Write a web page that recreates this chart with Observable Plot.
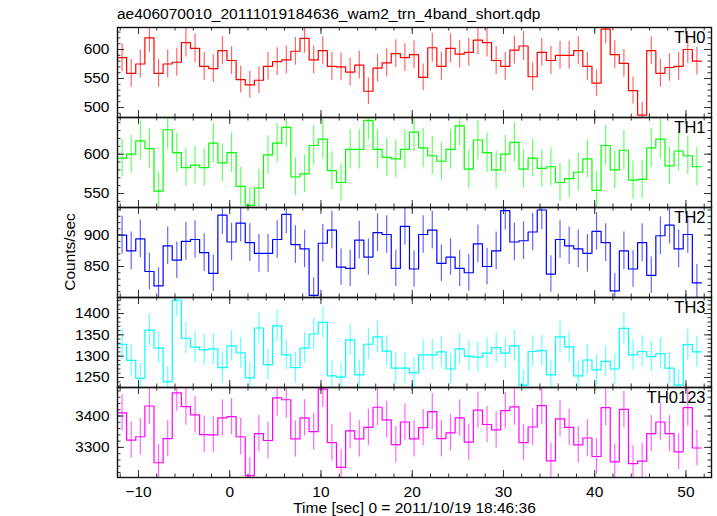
<!DOCTYPE html>
<html><head><meta charset="utf-8">
<script src="https://cdn.jsdelivr.net/npm/d3@7"></script>
<script src="https://cdn.jsdelivr.net/npm/@observablehq/plot@0.6"></script>
<style>
body{margin:0;background:#fff;}
#wrap{position:relative;width:717px;height:516px;overflow:hidden;background:#fff;font-family:"Liberation Sans",Arial,Helvetica,sans-serif;color:#000;}
.title{position:absolute;left:117px;top:4.6px;font-size:15.5px;line-height:18px;white-space:nowrap;}
.ylab{position:absolute;left:70px;top:252px;font-size:15.5px;line-height:18px;white-space:nowrap;transform:translate(-50%,-50%) rotate(-90deg);}
.panel{position:absolute;left:0;}
</style></head><body>
<div id="wrap">
  <div class="title">ae406070010_20111019184636_wam2_trn_4band_short.qdp</div>
  <div class="ylab">Counts/sec</div>
</div>
<script>
// bin centres (s), 1 s bins
const times = [-11.8,-10.8,-9.8,-8.8,-7.8,-6.8,-5.8,-4.8,-3.8,-2.8,
  -1.8,-0.8,0.2,1.2,2.2,3.2,4.2,5.2,6.2,7.2,
  8.2,9.2,10.2,11.2,12.2,13.2,14.2,15.2,16.2,17.2,
  18.2,19.2,20.2,21.2,22.2,23.2,24.2,25.2,26.2,27.2,
  28.2,29.2,30.2,31.2,32.2,33.2,34.2,35.2,36.2,37.2,
  38.2,39.2,40.2,41.2,42.2,43.2,44.2,45.2,46.2,47.2,
  48.2,49.2,50.2,51.2];

const th0 = [586,559,575,620,559,575,578,612,602,571,
  567,598,581,548,539,547,571,579,582,597,
  619,582,598,571,570,561,573,528,568,577,
  593,586,591,552,603,571,602,592,595,616,
  612,581,571,599,606,553,595,581,590,590,
  598,571,542,635,591,576,529,487,598,559,
  569,571,600,580];
const th0Err = [24,24,24,25,24,24,24,25,25,24,
  24,24,24,23,23,23,24,24,24,24,
  25,24,24,24,24,24,24,23,24,24,
  24,24,24,23,25,24,25,24,24,25,
  25,24,24,24,25,24,24,24,24,24,
  24,24,23,25,24,24,23,22,24,24,
  24,24,24,24];

const th1 = [595,600,617,607,553,631,602,583,586,583,
  614,589,602,559,535,557,599,614,634,571,
  575,611,619,579,564,606,606,643,606,596,
  594,606,628,608,598,591,606,636,581,618,
  602,580,600,615,581,595,582,584,564,569,
  577,594,554,611,580,605,567,568,608,619,
  585,604,598,584];
const th1Err = [24,24,25,25,24,25,25,24,24,24,
  25,24,25,24,23,24,24,25,25,24,
  24,25,25,24,24,25,25,25,25,24,
  24,25,25,25,24,24,25,25,24,25,
  25,24,24,25,24,24,24,24,24,24,
  24,24,24,25,24,25,24,24,25,25,
  24,25,24,24];

const th2 = [900,875,894,842,819,883,860,890,893,872,
  839,932,889,919,888,871,871,893,933,885,
  878,804,887,908,849,847,892,865,904,901,
  847,914,846,901,908,855,865,847,840,886,
  850,875,939,889,891,905,940,838,893,883,
  878,871,906,888,811,875,846,888,836,899,
  916,878,901,824];
const th2Err = [30,30,30,29,29,30,29,30,30,30,
  29,31,30,30,30,30,30,30,31,30,
  30,28,30,30,29,29,30,29,30,30,
  29,30,29,30,30,29,29,29,29,30,
  29,30,31,30,30,30,31,29,30,30,
  30,30,30,30,28,30,29,30,29,30,
  30,30,30,29];

const th3 = [1328,1290,1248,1361,1319,1240,1431,1342,1321,1315,
  1317,1273,1324,1308,1249,1366,1280,1371,1303,1273,
  1319,1352,1379,1254,1251,1338,1256,1328,1345,1312,
  1272,1272,1261,1303,1303,1310,1270,1317,1300,1298,
  1307,1320,1307,1324,1232,1311,1313,1256,1345,1322,
  1254,1291,1268,1288,1270,1365,1303,1311,1299,1306,
  1272,1232,1327,1310];
const th3Err = [36,36,35,37,36,35,38,37,36,36,
  36,36,36,36,35,37,36,37,36,36,
  36,37,37,35,35,37,35,36,37,36,
  36,36,36,36,36,36,36,36,36,36,
  36,36,36,36,35,36,36,35,37,36,
  35,36,36,36,36,37,36,36,36,36,
  36,35,36,36];

const th0123 = [3410,3323,3334,3432,3251,3328,3474,3430,3404,3341,
  3340,3394,3398,3334,3210,3344,3322,3458,3452,3327,
  3394,3350,3486,3315,3236,3353,3327,3364,3428,3388,
  3309,3381,3327,3363,3414,3328,3346,3394,3317,3419,
  3373,3356,3417,3429,3315,3365,3433,3257,3391,3364,
  3308,3330,3271,3427,3254,3421,3248,3256,3344,3381,
  3344,3286,3427,3298];
const th0123Err = [58,58,58,59,57,58,59,59,58,58,
  58,58,58,58,57,58,58,59,59,58,
  58,58,59,58,57,58,58,58,59,58,
  58,58,58,58,58,58,58,58,58,58,
  58,58,58,59,58,58,59,57,58,58,
  58,58,57,59,57,58,57,57,58,58,
  58,57,59,57];

const names = ["TH0","TH1","TH2","TH3","TH0123"];
const colors = ["#ff0000","#00ff00","#0000ff","#00ffff","#ff00ff"];
const series = [th0, th1, th2, th3, th0123];
const errors = [th0Err, th1Err, th2Err, th3Err, th0123Err];
const yDomains = [[482.8,637.9],[532.2,646.6],[800.6,944],[1226.6,1437.5],[3204,3491]];
const yTicks = [[500,550,600],[550,600],[850,900],[1250,1300,1350,1400],[3300,3400]];
const yMinorStep = [10,10,10,10,20];
const xTicks = [-10,0,10,20,30,40,50];
const xDomain = [-12.3, 52.8];
const xLabel = "Time [sec] 0 = 2011/10/19 18:46:36";

const W = 717, ML = 117, MR = 6, PH = 90, TOP = 27;
const FW = W - ML - MR;
const tickCol = "#333";
const font = '"Liberation Sans",Arial,Helvetica,sans-serif';
const wrap = document.getElementById("wrap");
const plainFmt = d => String(d).replace("-", "\u2212");

for (let i = 0; i < 5; i++) {
  const last = i === 4;
  const vals = series[i], errs = errors[i];
  const rows = times.map((t, k) => ({t, v: vals[k], lo: vals[k] - errs[k], hi: vals[k] + errs[k]}));
  const steps = times.map((t, k) => ({x: t - 0.5, y: vals[k]}))
    .concat([{x: times[times.length - 1] + 0.5, y: vals[vals.length - 1]}]);
  const [y0, y1] = yDomains[i];
  const st = yMinorStep[i];
  const yMinor = d3.range(Math.ceil(y0 / st) * st, y1, st);
  const xMinor = d3.range(-12, 53, 2);
  const marks = [
    Plot.ruleX(rows, {x: "t", y1: "lo", y2: "hi", stroke: colors[i], strokeOpacity: 0.6, strokeWidth: 1.2, clip: true}),
    Plot.line(steps, {x: "x", y: "y", curve: "step-after", stroke: colors[i], strokeWidth: 1.2, clip: true}),
    Plot.ruleY(yTicks[i], {y: d => d, insetRight: FW - 7, stroke: tickCol}),
    Plot.ruleY(yTicks[i], {y: d => d, insetLeft: FW - 7, stroke: tickCol}),
    Plot.ruleY(yMinor, {y: d => d, insetRight: FW - 3.5, stroke: tickCol}),
    Plot.ruleY(yMinor, {y: d => d, insetLeft: FW - 3.5, stroke: tickCol}),
    Plot.ruleX(xTicks, {x: d => d, insetBottom: PH - 7, stroke: tickCol}),
    Plot.ruleX(xTicks, {x: d => d, insetTop: PH - 7, stroke: tickCol}),
    Plot.ruleX(xMinor, {x: d => d, insetBottom: PH - 3.5, stroke: tickCol}),
    Plot.ruleX(xMinor, {x: d => d, insetTop: PH - 3.5, stroke: tickCol}),
    Plot.frame({stroke: "#111", strokeWidth: 1.4}),
    Plot.axisY({ticks: yTicks[i], tickSize: 0, tickPadding: 8, label: null, fontSize: 15.5, tickFormat: plainFmt}),
    Plot.text([names[i]], {frameAnchor: "top-right", dx: -6, dy: 4, lineAnchor: "top", fontSize: 16.5, fill: "#000"})
  ];
  if (last) {
    marks.push(Plot.axisX({ticks: xTicks, tickSize: 0, tickPadding: 8, label: null, fontSize: 15.5, tickFormat: plainFmt}));
    marks.push(Plot.text([xLabel], {frameAnchor: "bottom", dy: 35, lineAnchor: "bottom", fontSize: 15.5, fill: "#000"}));
  }
  const chart = Plot.plot({
    width: W,
    height: last ? PH + 40 : PH,
    marginLeft: ML, marginRight: MR, marginTop: 0, marginBottom: last ? 40 : 0,
    style: {overflow: "visible", background: "transparent", fontFamily: font, fontSize: "15.5px", color: "#000"},
    x: {domain: xDomain, axis: last ? undefined : null},
    y: {domain: yDomains[i]},
    marks
  });
  chart.classList.add("panel");
  chart.style.top = (TOP + PH * i) + "px";
  chart.style.position = "absolute";
  chart.style.left = "0px";
  wrap.appendChild(chart);
}
</script>
</body></html>
